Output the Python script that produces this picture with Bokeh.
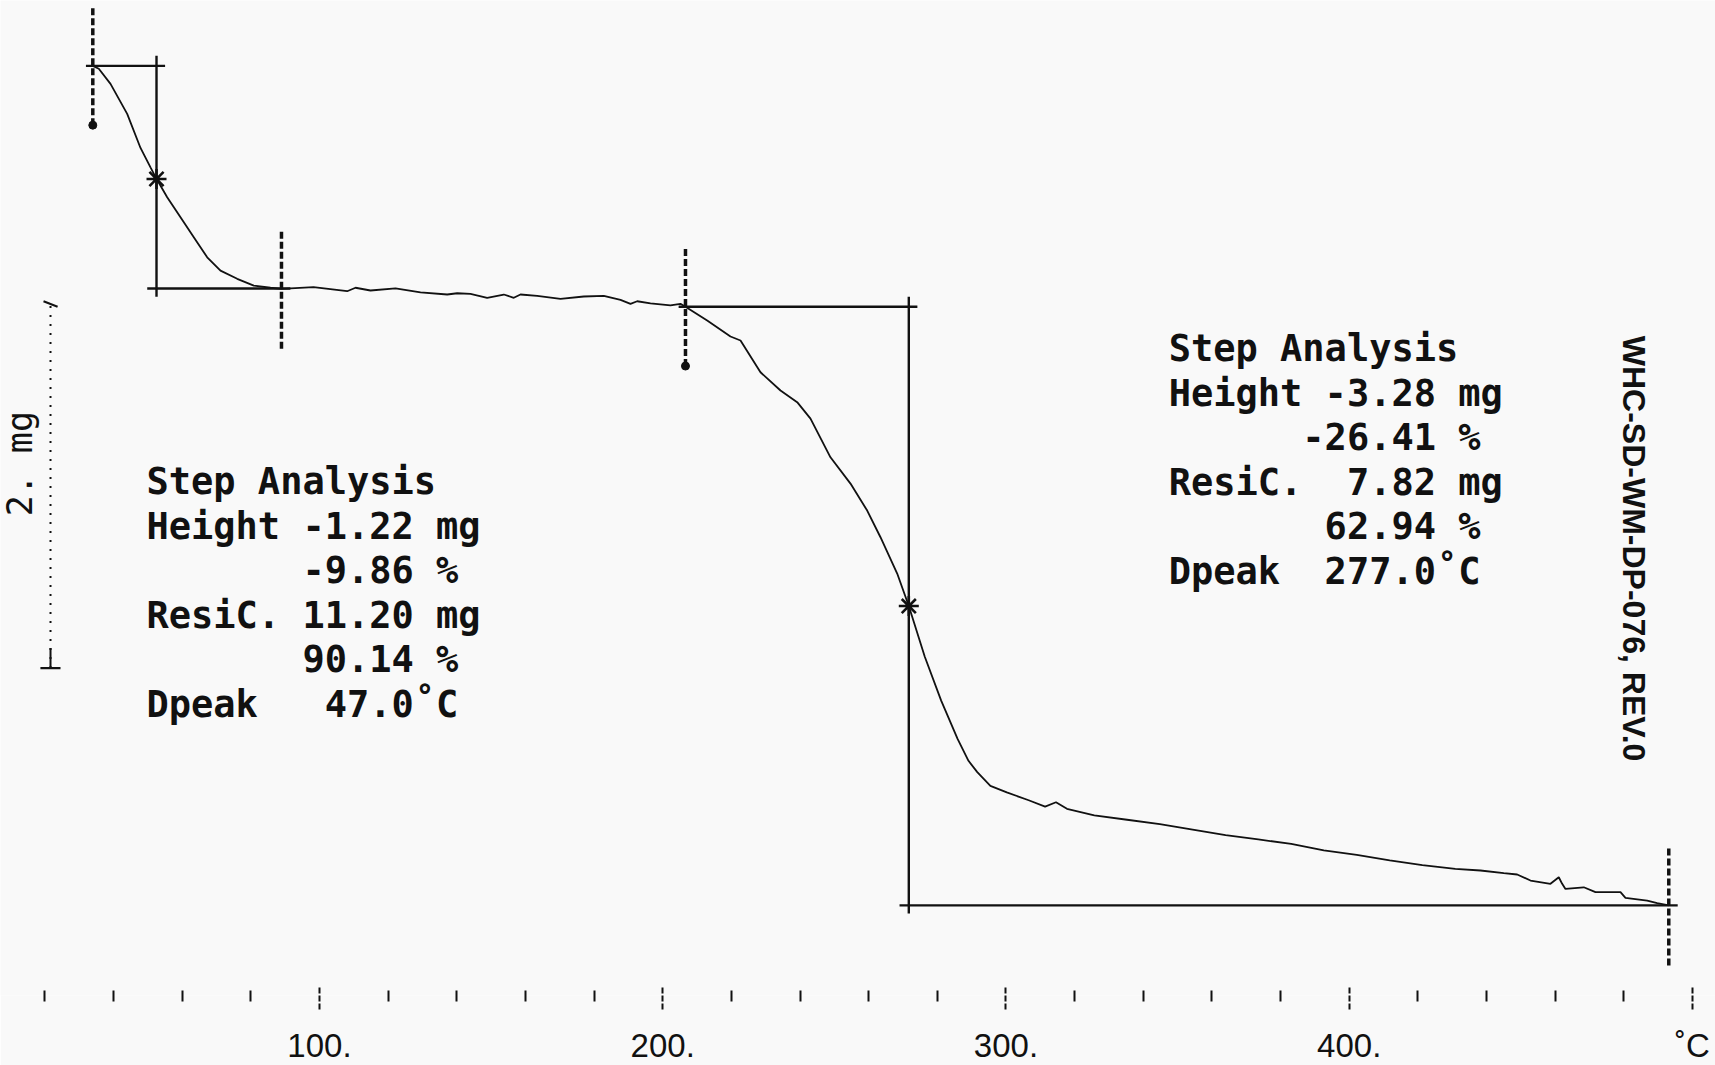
import math

from bokeh.core.properties import value
from bokeh.embed import file_html
from bokeh.models import FixedTicker, Range1d
from bokeh.plotting import figure
from bokeh.resources import INLINE

# ---------------------------------------------------------------
# TGA run: sample mass (mg) against furnace temperature (deg C)
# ---------------------------------------------------------------

# first mass-loss step (moisture)
STEP1_C = [33.96, 35.71, 39.12, 43.98, 47.86, 50.77, 52.52, 55.63, 59.51,
           63.38, 67.29, 71.16, 76.03, 80.86, 85.73, 88.93]
STEP1_MG = [12.42, 12.404, 12.321, 12.157, 11.97, 11.864, 11.801, 11.700,
            11.590, 11.481, 11.371, 11.298, 11.253, 11.216, 11.204, 11.198]

# plateau between the two steps
PLATEAU_C = [98.26, 108.07, 110.49, 114.86, 122.15, 129.43, 137.21, 140.12,
             143.99, 148.86, 153.70, 156.61, 158.56, 163.43, 170.22, 177.00,
             182.83, 187.70, 190.61, 192.56, 196.44, 202.26, 205.17, 206.63]
PLATEAU_MG = [11.207, 11.185, 11.204, 11.189, 11.201, 11.179, 11.167, 11.174,
              11.171, 11.149, 11.167, 11.149, 11.167, 11.160, 11.143, 11.156,
              11.160, 11.138, 11.116, 11.130, 11.119, 11.107, 11.116, 11.10]

# second mass-loss step (decomposition)
STEP2_C = [212.95, 219.74, 222.66, 228.48, 234.31, 239.17, 243.05, 248.87,
           254.70, 259.57, 263.44, 268.31, 271.69, 276.35, 281.12, 285.90,
           289.08, 291.64]
STEP2_MG = [11.024, 10.937, 10.915, 10.741, 10.641, 10.577, 10.487, 10.275,
            10.131, 9.983, 9.837, 9.638, 9.46, 9.182, 8.942, 8.732,
            8.612, 8.55]

# slow tail up to the end of the run
TAIL_C = [295.46, 300.24, 306.62, 311.40, 314.57, 317.77, 325.73, 335.28,
          344.84, 354.39, 363.98, 373.50, 383.10, 392.60, 402.20, 411.80,
          421.30, 430.90, 438.24, 445.03, 448.93, 452.81, 458.63, 461.05,
          462.04, 463.00, 468.34, 471.74, 479.03, 480.48, 486.81, 489.72,
          493.10]
TAIL_MG = [8.475, 8.439, 8.396, 8.361, 8.385, 8.349, 8.313, 8.289,
           8.265, 8.235, 8.205, 8.181, 8.157, 8.121, 8.097, 8.067,
           8.04, 8.02, 8.011, 7.996, 7.989, 7.956, 7.938, 7.974,
           7.938, 7.910, 7.919, 7.892, 7.892, 7.861, 7.846, 7.832,
           7.82]

# step evaluation results
STEP_START_C = [33.96, 206.63]
STEP_INFLECT_C = [52.52, 271.69]
STEP_END_C = [88.93, 493.10]
INFLECT_MG = [11.80, 9.46]
LEVEL_BEFORE_MG = [12.42, 11.10]
HEIGHT_MG = [-1.22, -3.28]
HEIGHT_PCT = [-9.86, -26.41]
RESIDUE_MG = [11.20, 7.82]
RESIDUE_PCT = [90.14, 62.94]
DPEAK_C = [47.0, 277.0]

# x axis
MAJOR_TICKS = [100, 200, 300, 400, 500]
TICK_LABELS = ["100.", "200.", "300.", "400.", "\u02daC"]
MINOR_TICKS = [t for t in range(20, 500, 20) if t % 100]

# mass scale bar
SCALE_BAR_BASE_MG = 9.12
SCALE_BAR_MG = 2.0
SCALE_BAR_LABEL = "2. mg"

DOC_ID = "WHC-SD-WM-DP-076, REV.0"

# ---------------------------------------------------------------
INK = "#111111"
PAPER = "#f9f9f9"
MONO = value("DejaVu Sans Mono")

p = figure(
    frame_width=1715, frame_height=995,
    x_range=Range1d(7.07, 506.71), y_range=Range1d(7.326, 12.778),
    output_backend="svg", toolbar_location=None,
    y_axis_location=None, min_border=0,
    background_fill_color=PAPER, border_fill_color=PAPER,
)
p.outline_line_color = None
p.grid.visible = False

ax = p.xaxis[0]
ax.ticker = FixedTicker(ticks=MAJOR_TICKS, minor_ticks=MINOR_TICKS)
ax.major_label_overrides = dict(zip(MAJOR_TICKS, TICK_LABELS))
ax.axis_line_color = None
ax.major_tick_in = 8
ax.major_tick_out = 14
ax.major_tick_line_width = 2
ax.major_tick_line_color = INK
ax.major_tick_line_dash = "6 2"
ax.minor_tick_in = 5
ax.minor_tick_out = 6
ax.minor_tick_line_width = 2
ax.minor_tick_line_color = INK
ax.major_label_text_font = "Liberation Sans"
ax.major_label_text_font_size = "33px"
ax.major_label_text_color = INK
ax.major_label_standoff = 17

# mass curve
curve_c = STEP1_C + PLATEAU_C + STEP2_C + TAIL_C
curve_mg = STEP1_MG + PLATEAU_MG + STEP2_MG + TAIL_MG
p.line(curve_c, curve_mg, line_color=INK, line_width=1.8)

# step construction lines
for i in range(2):
    t0, ti, t1 = STEP_START_C[i], STEP_INFLECT_C[i], STEP_END_C[i]
    top = LEVEL_BEFORE_MG[i]
    bottom = top + HEIGHT_MG[i]
    # baselines before / after the step
    p.line([t0 - 2.0, ti + 2.5], [top, top], line_color=INK, line_width=2.4)
    p.line([ti - 2.7, t1 + 2.6], [bottom, bottom], line_color=INK, line_width=2.4)
    # vertical through the inflection point
    p.line([ti, ti], [top + 0.055, bottom - 0.045], line_color=INK, line_width=2.4)
    # evaluation limits
    p.line([t0, t0], [top - 0.325, top + 0.33], line_color=INK,
           line_width=3.5, line_dash="7 3")
    p.line([t1, t1], [bottom - 0.33, bottom + 0.325], line_color=INK,
           line_width=3.5, line_dash="7 3")
    p.scatter([t0], [top - 0.325], size=8, color=INK)

p.scatter(STEP_INFLECT_C, INFLECT_MG, marker="asterisk", size=20,
          line_color=INK, line_width=2.6)


def nb(s):
    return s.replace(" ", "\u00a0")


def note_lines(i):
    return [
        "Step Analysis",
        f"Height {HEIGHT_MG[i]:5.2f} mg",
        f"{'':6}{HEIGHT_PCT[i]:6.2f} %",
        f"ResiC. {RESIDUE_MG[i]:5.2f} mg",
        f"{'':6}{RESIDUE_PCT[i]:6.2f} %",
        f"Dpeak {DPEAK_C[i]:6.1f}\u02daC",
    ]


LINE_STEP_MG = 0.2438
for i, (x0, y0) in enumerate([(49.6, 10.14), (347.4, 10.87)]):
    lines = note_lines(i)
    p.text(x=[x0] * len(lines), y=[y0 - k * LINE_STEP_MG for k in range(len(lines))],
           text=[nb(s) for s in lines], text_font=MONO, text_font_size="37px",
           text_font_style="bold", text_color=INK,
           text_align="left", text_baseline="alphabetic")

# mass scale bar on the left
bar_x = 21.64
p.line([bar_x, bar_x], [SCALE_BAR_BASE_MG, SCALE_BAR_BASE_MG + SCALE_BAR_MG],
       line_color=INK, line_width=2, line_dash="2 7")
p.line([bar_x, bar_x], [SCALE_BAR_BASE_MG, SCALE_BAR_BASE_MG + 0.11],
       line_color=INK, line_width=2)
p.line([18.7, 24.55], [SCALE_BAR_BASE_MG, SCALE_BAR_BASE_MG], line_color=INK, line_width=2.4)
p.line([19.6, 23.7], [SCALE_BAR_BASE_MG + SCALE_BAR_MG + 0.01, SCALE_BAR_BASE_MG + SCALE_BAR_MG - 0.02],
       line_color=INK, line_width=2)
p.text(x=[12.8], y=[SCALE_BAR_BASE_MG + 1.12], text=[nb(SCALE_BAR_LABEL)],
       angle=math.pi / 2, text_font=MONO, text_font_size="35px",
       text_color=INK, text_align="center", text_baseline="middle")

# document number along the right edge
p.text(x=[482.9], y=[9.775], text=[DOC_ID], angle=-math.pi / 2,
       text_font=value("Liberation Sans"), text_font_style="bold",
       text_font_size="32px", text_color=INK,
       text_align="center", text_baseline="middle")

open("out.html", "w").write(file_html(p, INLINE))
